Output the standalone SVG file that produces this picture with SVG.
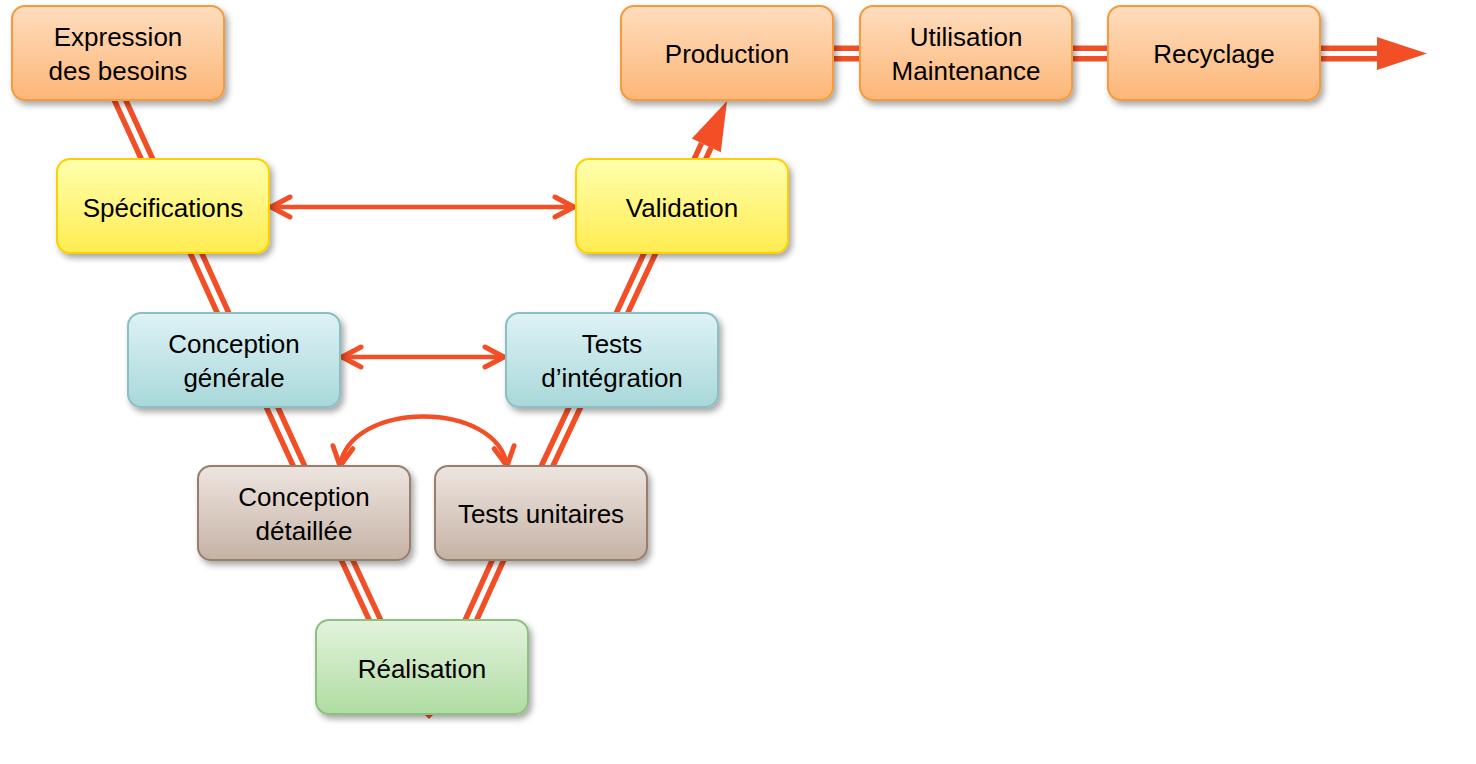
<svg xmlns="http://www.w3.org/2000/svg" width="1476" height="764" viewBox="0 0 1476 764">
  <defs>
    <style>
      .box { stroke-width: 2; filter: url(#shadow); }
      .lbl { font-family: "Liberation Sans", Arial, sans-serif; font-size: 26px; fill: #000; text-anchor: middle; }
      .dbl-r { stroke: #F24F26; stroke-width: 16; fill: none; }
      .dbl-w { stroke: #FFFFFF; stroke-width: 5; fill: none; }
      .head { fill: #F24F26; }
      .arr { stroke: #F24F26; stroke-width: 4.5; fill: none; marker-start: url(#chev); marker-end: url(#chev); }
    </style>
    <filter id="shadow" x="-20%" y="-20%" width="140%" height="150%">
      <feDropShadow dx="3" dy="4" stdDeviation="3" flood-color="#000" flood-opacity="0.35"/>
    </filter>
    <marker id="chev" markerUnits="userSpaceOnUse" viewBox="-24 -14 28 28" refX="0" refY="0" markerWidth="28" markerHeight="28" orient="auto-start-reverse">
      <path d="M-19,-10 L0,0 L-19,10" fill="none" stroke="#F24F26" stroke-width="5" stroke-linecap="round" stroke-linejoin="round"/>
    </marker>
    <linearGradient id="gOrange" x1="0" y1="0" x2="0" y2="1">
      <stop offset="0" stop-color="#FEDDBE"/>
      <stop offset="1" stop-color="#FDB677"/>
    </linearGradient>
    <linearGradient id="gYellow" x1="0" y1="0" x2="0" y2="1">
      <stop offset="0" stop-color="#FFFFAE"/>
      <stop offset="1" stop-color="#FFEC50"/>
    </linearGradient>
    <linearGradient id="gBlue" x1="0" y1="0" x2="0" y2="1">
      <stop offset="0" stop-color="#DEF2F5"/>
      <stop offset="1" stop-color="#A8D8DA"/>
    </linearGradient>
    <linearGradient id="gBrown" x1="0" y1="0" x2="0" y2="1">
      <stop offset="0" stop-color="#EEE5E0"/>
      <stop offset="1" stop-color="#C5B2A5"/>
    </linearGradient>
    <linearGradient id="gGreen" x1="0" y1="0" x2="0" y2="1">
      <stop offset="0" stop-color="#E3F3DE"/>
      <stop offset="1" stop-color="#AFDCA2"/>
    </linearGradient>
  </defs>

  <rect width="1476" height="764" fill="#FFFFFF"/>

  <g id="connectors">
    <g>
      <path class="dbl-r" d="M115.4,90 L152,170 M191.4,243 L227.6,323 M267.4,397 L303.6,476 M342.4,550 L379.6,630 M466.4,630 L502.6,550 M542.4,476 L579.6,397 M617.4,323 L654.6,243 M695.4,169 L706.3,145.4 M825,53.5 L868,53.5 M1064,53.5 L1116,53.5 M1312,53.5 L1378,53.5"/>
      <path class="dbl-w" d="M115.4,90 L152,170 M191.4,243 L227.6,323 M267.4,397 L303.6,476 M342.4,550 L379.6,630 M466.4,630 L502.6,550 M542.4,476 L579.6,397 M617.4,323 L654.6,243 M695.4,169 L706.3,145.4 M825,53.5 L868,53.5 M1064,53.5 L1116,53.5 M1312,53.5 L1378,53.5"/>
      <polygon class="head" points="727,101 720.8,152.2 691.8,138.6"/>
      <polygon class="head" points="1377,37 1427,53.5 1377,70"/>
      <polygon class="head" points="424,714 434,714 429,719"/>
    </g>
    <line class="arr" x1="271" y1="207" x2="574" y2="207"/>
    <line class="arr" x1="342" y1="357" x2="504" y2="357"/>
    <path class="arr" d="M340,466 C350,400 497,400 507,466"/>
  </g>

  <g id="expression">
    <rect class="box" x="12" y="6" width="212" height="94" rx="13" fill="url(#gOrange)" stroke="#F59A3C"/>
    <text class="lbl" x="118" y="46">Expression</text>
    <text class="lbl" x="118" y="80">des besoins</text>
  </g>
  <g id="production">
    <rect class="box" x="621" y="6" width="212" height="94" rx="13" fill="url(#gOrange)" stroke="#F59A3C"/>
    <text class="lbl" x="727" y="63">Production</text>
  </g>
  <g id="utilisation">
    <rect class="box" x="860" y="6" width="212" height="94" rx="13" fill="url(#gOrange)" stroke="#F59A3C"/>
    <text class="lbl" x="966" y="46">Utilisation</text>
    <text class="lbl" x="966" y="80">Maintenance</text>
  </g>
  <g id="recyclage">
    <rect class="box" x="1108" y="6" width="212" height="94" rx="13" fill="url(#gOrange)" stroke="#F59A3C"/>
    <text class="lbl" x="1214" y="63">Recyclage</text>
  </g>
  <g id="specifications">
    <rect class="box" x="57" y="159" width="212" height="94" rx="13" fill="url(#gYellow)" stroke="#FFD000"/>
    <text class="lbl" x="163" y="217">Spécifications</text>
  </g>
  <g id="validation">
    <rect class="box" x="576" y="159" width="212" height="94" rx="13" fill="url(#gYellow)" stroke="#FFD000"/>
    <text class="lbl" x="682" y="217">Validation</text>
  </g>
  <g id="conception-generale">
    <rect class="box" x="128" y="313" width="212" height="94" rx="13" fill="url(#gBlue)" stroke="#8CBFC3"/>
    <text class="lbl" x="234" y="353">Conception</text>
    <text class="lbl" x="234" y="387">générale</text>
  </g>
  <g id="tests-integration">
    <rect class="box" x="506" y="313" width="212" height="94" rx="13" fill="url(#gBlue)" stroke="#8CBFC3"/>
    <text class="lbl" x="612" y="353">Tests</text>
    <text class="lbl" x="612" y="387">d’intégration</text>
  </g>
  <g id="conception-detaillee">
    <rect class="box" x="198" y="466" width="212" height="94" rx="13" fill="url(#gBrown)" stroke="#987F6D"/>
    <text class="lbl" x="304" y="506">Conception</text>
    <text class="lbl" x="304" y="540">détaillée</text>
  </g>
  <g id="tests-unitaires">
    <rect class="box" x="435" y="466" width="212" height="94" rx="13" fill="url(#gBrown)" stroke="#987F6D"/>
    <text class="lbl" x="541" y="523">Tests unitaires</text>
  </g>
  <g id="realisation">
    <rect class="box" x="316" y="620" width="212" height="94" rx="13" fill="url(#gGreen)" stroke="#8DC17F"/>
    <text class="lbl" x="422" y="678">Réalisation</text>
  </g>
</svg>
